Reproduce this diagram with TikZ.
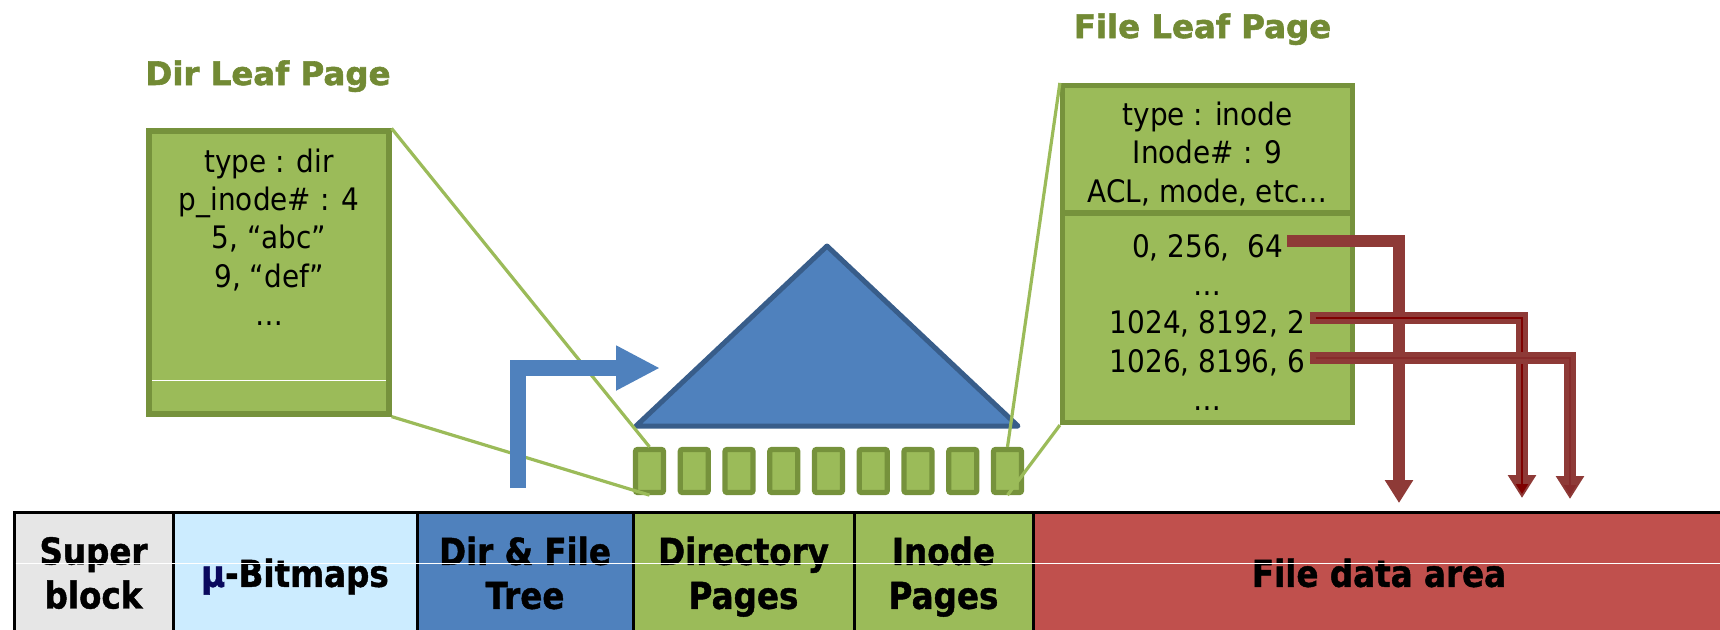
\documentclass[tikz,border=0pt]{standalone}
\usepackage{fontspec}
\setmainfont{DejaVu Sans}
\newfontfamily\boxfont{DejaVu Sans}[FakeStretch=0.9]
\newfontfamily\barfont{DejaVu Sans}[FakeStretch=0.88, BoldFeatures={FakeBold=1.2}]
\newfontfamily\titlefont{DejaVu Sans}[BoldFeatures={FakeBold=1.8}]
\usetikzlibrary{arrows.meta}
\definecolor{pagegreen}{HTML}{9BBB59}
\definecolor{pageline}{HTML}{76923C}
\definecolor{titleolive}{HTML}{728A34}
\definecolor{treeblue}{HTML}{4F81BD}
\definecolor{treedark}{HTML}{385D8A}
\definecolor{datared}{HTML}{C0504D}
\definecolor{bitblue}{HTML}{CCECFF}
\definecolor{supergray}{HTML}{E6E6E6}
\definecolor{arrowred}{HTML}{8E3A37}
\definecolor{innerred}{HTML}{7F0000}
\definecolor{innerred2}{HTML}{872B2B}
\definecolor{mucolor}{HTML}{0A0A5E}
\begin{document}
\begin{tikzpicture}[x=0.5pt,y=-0.5pt,
  cell/.style={draw=black, line width=1.5pt, minimum height=60.25pt, inner sep=0pt, outer sep=0pt,
    anchor=north west, align=center, text depth=0pt,
    font=\barfont\bfseries\fontsize{18.5}{22}\selectfont},
  pagebox/.style={draw=pageline, fill=pagegreen, line width=2.6pt, inner sep=0pt},
  sq/.style={draw=pageline, fill=pagegreen, line width=2.6pt, inner sep=0pt,
    minimum width=14pt, minimum height=21.5pt, rounded corners=1pt},
  boxtext/.style={anchor=base, inner sep=2pt, font=\boxfont\fontsize{15.5}{19}\selectfont},
  titletext/.style={anchor=base, inner sep=0pt, text=titleolive,
    font=\titlefont\bfseries\fontsize{16.2}{19}\selectfont},
  zoomline/.style={draw=pagegreen, line width=1.6pt},
  redarrow/.style={draw=arrowred, line width=5.75pt, -{Triangle[length=11.5pt,width=13.5pt]}},
  innerarrow/.style={line width=1pt, -{Triangle[length=5pt,width=6pt]}}
]
\path[use as bounding box, clip] (0,0) rectangle (1720,629);

% ---- bottom bar ----
\node[cell, fill=supergray, minimum width=79.5pt] (sb) at (14,512.5) {Super\\block};
\node[cell, fill=bitblue, minimum width=122pt] (bm) at (173,512.5) {{\color{mucolor}μ}-Bitmaps};
\node[cell, fill=treeblue, minimum width=108pt] (tr) at (417,512.5) {Dir \& File\\Tree};
\node[cell, fill=pagegreen, minimum width=110.5pt] (dp) at (633,512.5) {Directory\\Pages};
\node[cell, fill=pagegreen, minimum width=89.5pt] (ip) at (854,512.5) {Inode\\Pages};
\node[cell, fill=datared, minimum width=346pt] (fd) at (1033,512.5) {File data area};
\draw[white, line width=0.5pt] (15.5,563) -- (1720,563);

% ---- dir leaf page ----
\node[titletext] (dirtitle) at (268,85) {Dir Leaf Page};
\node[pagebox, minimum width=120pt, minimum height=141.5pt] (dirbox) at (269,272.5) {};
\draw[white, line width=0.5pt] (152,380) -- (386,380);
\node[boxtext] (d1) at (269,172) {type : dir};
\node[boxtext] (d2) at (269,210) {p\_inode\# : 4};
\node[boxtext] (d3) at (269,248) {5, “abc”};
\node[boxtext] (d4) at (269,287) {9, “def”};
\node[boxtext] (d5) at (269,325) {…};

% ---- tree ----
\filldraw[fill=treeblue, draw=treedark, line width=2.5pt, line join=round]
  (636,426) -- (827,246) -- (1018,426) -- cycle;
\foreach \i in {1,...,9}
  \node[sq] (sq\i) at ({649.5+44.75*(\i-1)},471) {};

% ---- file leaf page ----
\node[titletext] (filetitle) at (1202.5,38) {File Leaf Page};
\node[pagebox, minimum width=145pt, minimum height=63.75pt] (fup) at (1207.5,149.25) {};
\node[pagebox, minimum width=145pt, minimum height=104.75pt] (flow) at (1207.5,317.75) {};
\node[boxtext] (f1) at (1207.5,125) {type : inode};
\node[boxtext] (f2) at (1207.5,163) {Inode\# : 9};
\node[boxtext] (f3) at (1207.5,202) {ACL, mode, etc…};
\node[boxtext] (e1) at (1207.5,257) {0, 256, \ 64};
\node[boxtext] (e2) at (1207.5,295) {…};
\node[boxtext] (e3) at (1207.5,333) {1024, 8192, 2};
\node[boxtext] (e4) at (1207.5,372) {1026, 8196, 6};
\node[boxtext] (e5) at (1207.5,410) {…};

% ---- zoom lines ----
\draw[zoomline] (dirbox.north east) -- (sq1.north);
\draw[zoomline] (dirbox.south east) -- (sq1.south);
\draw[zoomline] (fup.north west) -- (sq9.north);
\draw[zoomline] (flow.south west) -- (sq9.south);

% ---- blue bent arrow ----
\coordinate (ba0) at (518,488);
\coordinate (ba1) at (660,368);
\draw[treeblue, line width=8pt, -{Triangle[length=22pt,width=21pt]}] (ba0) |- (ba1);

% ---- red extent arrows ----
\coordinate (t1) at (1399,503);
\coordinate (t2) at (1522,498);
\coordinate (t3) at (1570,499);
\coordinate (u2) at (1522,494);
\coordinate (u3) at (1570,495);
\draw[redarrow] ([yshift=8pt]e1.base east) -| (t1);
\draw[redarrow] ([yshift=7.5pt]e3.base east) -| (t2);
\draw[innerarrow, draw=innerred] ([xshift=3pt,yshift=7.5pt]e3.base east) -| (u2);
\draw[redarrow] ([yshift=7pt]e4.base east) -| (t3);
\draw[innerarrow, draw=innerred2] ([xshift=3pt,yshift=7pt]e4.base east) -| (u3);
\end{tikzpicture}
\end{document}
